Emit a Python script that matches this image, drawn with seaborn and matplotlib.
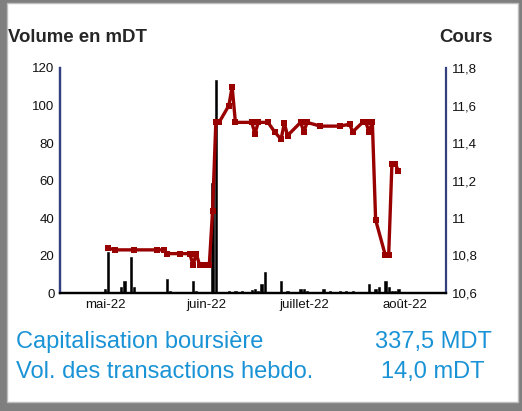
import pandas as pd
import matplotlib.pyplot as plt
from matplotlib.patches import Rectangle
from matplotlib.ticker import FuncFormatter
import seaborn as sns

# cours (price)
price_dates = ['2022-05-02', '2022-05-04', '2022-05-10', '2022-05-17', '2022-05-19',
               '2022-05-20', '2022-05-24', '2022-05-27', '2022-05-28', '2022-05-29',
               '2022-05-30', '2022-06-01', '2022-06-02', '2022-06-03', '2022-06-04',
               '2022-06-05', '2022-06-08', '2022-06-09', '2022-06-10', '2022-06-15',
               '2022-06-16', '2022-06-17', '2022-06-20', '2022-06-22', '2022-06-24',
               '2022-06-25', '2022-06-26', '2022-06-30', '2022-07-01', '2022-07-02',
               '2022-07-06', '2022-07-12', '2022-07-15', '2022-07-16', '2022-07-19',
               '2022-07-20', '2022-07-21', '2022-07-22', '2022-07-23', '2022-07-26',
               '2022-07-27', '2022-07-28', '2022-07-29', '2022-07-30']
price_values = [10.84, 10.83, 10.83, 10.83, 10.83,
                10.81, 10.81, 10.81, 10.75, 10.81,
                10.75, 10.75, 10.75, 11.04, 11.51,
                11.51, 11.60, 11.70, 11.51, 11.51,
                11.45, 11.51, 11.51, 11.46, 11.42,
                11.505, 11.44, 11.51, 11.46, 11.51,
                11.49, 11.49, 11.50, 11.46, 11.51,
                11.51, 11.46, 11.51, 10.99, 10.80,
                10.80, 11.29, 11.29, 11.25]

# volume en mDT
vol_dates = ['2022-05-01', '2022-05-02', '2022-05-06', '2022-05-07', '2022-05-09',
             '2022-05-10', '2022-05-20', '2022-05-21', '2022-05-28', '2022-05-29',
             '2022-05-30', '2022-06-03', '2022-06-04', '2022-06-08', '2022-06-10',
             '2022-06-12', '2022-06-15', '2022-06-16', '2022-06-17', '2022-06-18',
             '2022-06-19', '2022-06-24', '2022-06-26', '2022-06-30', '2022-07-01',
             '2022-07-02', '2022-07-07', '2022-07-09', '2022-07-12', '2022-07-14',
             '2022-07-16', '2022-07-21', '2022-07-23', '2022-07-24', '2022-07-26',
             '2022-07-27', '2022-07-28', '2022-07-29', '2022-07-30']
vol_values = [2, 22, 3, 6.5, 19,
              3, 7.5, 1, 6.5, 1,
              0.5, 58.6, 113.6, 1, 1,
              1, 1.5, 2, 1, 5,
              11, 6.5, 1, 2, 2,
              1, 2, 1, 1, 1,
              1, 5, 2, 3, 6.5,
              3, 1, 1, 2]

month_ticks = ['2022-05-01', '2022-06-01', '2022-07-01', '2022-08-01']
month_labels = ['mai-22', 'juin-22', 'juillet-22', 'août-22']

prix = pd.DataFrame({'date': pd.to_datetime(price_dates), 'cours': price_values})
vol = pd.DataFrame({'date': pd.to_datetime(vol_dates), 'volume': vol_values})

sns.set_style('white')
plt.rcParams['font.family'] = ['Liberation Sans', 'DejaVu Sans']

fig = plt.figure(figsize=(5.22, 4.11), dpi=100, facecolor='#7f7f7f')
fig.patches.append(Rectangle((7 / 522, 9 / 411), 511 / 522, 399 / 411,
                             transform=fig.transFigure, facecolor='white',
                             edgecolor='#bdbdbd', linewidth=1, zorder=-10))

ax = fig.add_axes([60 / 522, 118 / 411, 386 / 522, 225 / 411])
ax.set_facecolor('none')
ax.bar(vol['date'], vol['volume'], width=0.7, color='black',
       edgecolor='black', linewidth=0.4, zorder=2)
ax.set_ylim(0, 120)
ax.set_yticks(range(0, 121, 20))
ax.set_xlim(pd.Timestamp('2022-04-17 05:00'), pd.Timestamp('2022-08-13 14:00'))
ax.set_xticks(pd.to_datetime(month_ticks))
ax.set_xticklabels(month_labels)
ax.tick_params(axis='both', length=0, labelsize=9.5, colors='#111111', pad=4)

ax2 = ax.twinx()
ax2.set_facecolor('none')
sns.lineplot(data=prix, x='date', y='cours', ax=ax2, color='#990000',
             linewidth=2.4, marker='s', markersize=4.5, markeredgewidth=0)
ax2.set_ylim(10.6, 11.8)
ax2.set_yticks([10.6, 10.8, 11.0, 11.2, 11.4, 11.6, 11.8])
ax2.yaxis.set_major_formatter(FuncFormatter(lambda v, p: f'{v:g}'.replace('.', ',')))
ax2.tick_params(axis='y', length=0, labelsize=9.5, colors='#111111', pad=4)
ax2.set_xlabel('')
ax2.set_ylabel('')

for a in (ax, ax2):
    a.spines['top'].set_visible(False)
    a.spines['left'].set_color('#33407f')
    a.spines['right'].set_color('#33407f')
    a.spines['left'].set_linewidth(1.6)
    a.spines['right'].set_linewidth(1.6)
    a.spines['bottom'].set_color('black')
    a.spines['bottom'].set_linewidth(1.6)
ax.spines['right'].set_visible(False)

fig.text(8 / 522, 1 - 37 / 411, 'Volume en mDT', fontsize=13.4, fontweight='bold',
         va='center', ha='left')
fig.text(493 / 522, 1 - 37 / 411, 'Cours', fontsize=13.4, fontweight='bold',
         va='center', ha='right')

blue = '#1a93d6'
fig.text(16 / 522, 1 - 342 / 411, 'Capitalisation boursière', fontsize=17,
         color=blue, va='center', ha='left')
fig.text(16 / 522, 1 - 372 / 411, 'Vol. des transactions hebdo.', fontsize=17,
         color=blue, va='center', ha='left')
fig.text(433 / 522, 1 - 342 / 411, '337,5 MDT', fontsize=17, color=blue,
         va='center', ha='center')
fig.text(433 / 522, 1 - 372 / 411, '14,0 mDT', fontsize=17, color=blue,
         va='center', ha='center')

fig.savefig('out.png', dpi=100, facecolor=fig.get_facecolor())
